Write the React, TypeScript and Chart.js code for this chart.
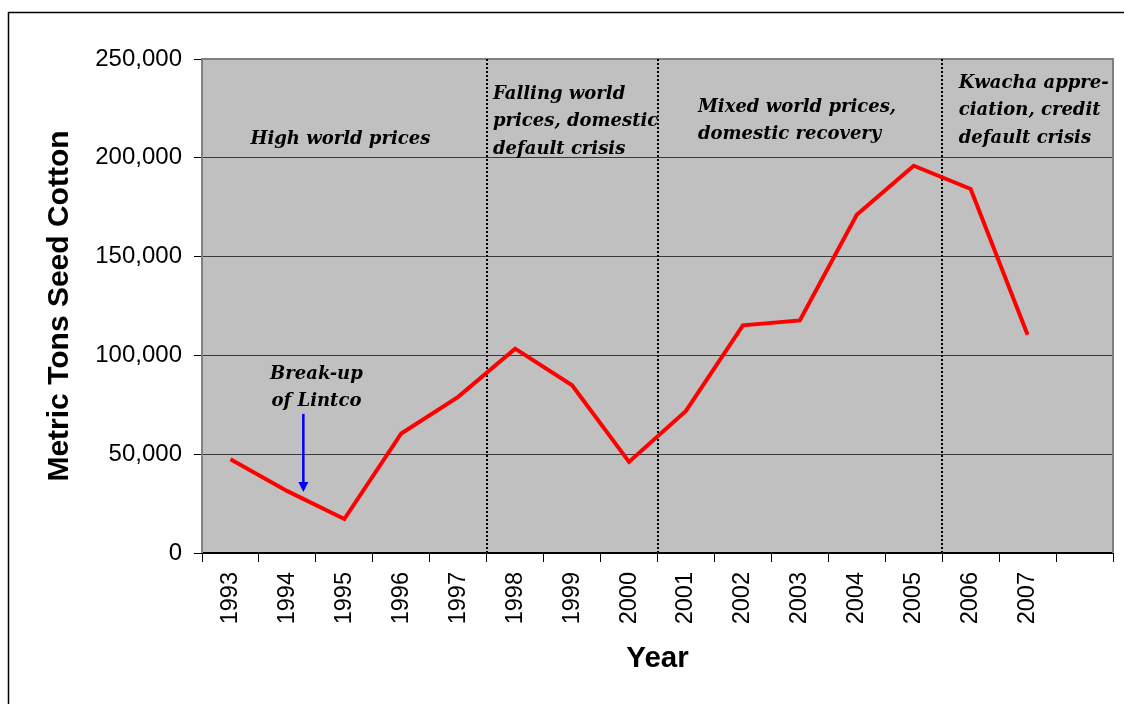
import React, { useEffect, useRef } from 'react';
import { Chart, registerables } from 'chart.js';

Chart.register(...registerables);

// ---- data ----
const years = ['1993', '1994', '1995', '1996', '1997', '1998', '1999', '2000', '2001', '2002', '2003', '2004', '2005', '2006', '2007', ''];
const seedCotton = [47500, 31300, 17200, 60500, 79000, 103400, 84900, 46100, 71900, 115200, 117700, 171200, 196000, 184200, 110500, null];
const yTickValues = [0, 50000, 100000, 150000, 200000, 250000];
const periodBoundaries = [4.5, 7.5, 12.5];

const periodNotes = [
  { lines: ['High world prices'], x: 1.93, y: 209500, align: 'center' },
  { lines: ['Falling world', 'prices, domestic', 'default crisis'], x: 4.61, y: 232300, align: 'left' },
  { lines: ['Mixed world prices,', 'domestic recovery'], x: 8.21, y: 225700, align: 'left' },
  { lines: ['Kwacha appre-', 'ciation, credit', 'default crisis'], x: 12.79, y: 237900, align: 'left' },
  { lines: ['Break-up', 'of Lintco'], x: 1.51, y: 90600, align: 'center' },
];
const lintcoArrow = { x: 1.28, from: 70400, to: 30900 };

const NOTE_FONT = 'italic bold 18px "DejaVu Serif"';
const NOTE_LINE = 27.5;

const plotDecor = {
  id: 'plotDecor',
  beforeDraw(chart: any) {
    const { ctx, chartArea: a } = chart;
    ctx.save();
    ctx.fillStyle = '#ffffff';
    ctx.fillRect(0, 0, chart.width, chart.height);
    ctx.fillStyle = '#c0c0c0';
    ctx.fillRect(a.left, a.top, a.right - a.left, a.bottom - a.top);
    ctx.restore();
  },
  beforeDatasetsDraw(chart: any) {
    const { ctx, chartArea: a, scales } = chart;
    ctx.save();
    ctx.strokeStyle = '#808080';
    ctx.lineWidth = 2;
    ctx.beginPath();
    ctx.moveTo(a.left, a.bottom);
    ctx.lineTo(a.left, a.top);
    ctx.lineTo(a.right, a.top);
    ctx.lineTo(a.right, a.bottom);
    ctx.stroke();
    ctx.strokeStyle = '#000000';
    ctx.lineWidth = 2;
    ctx.setLineDash([2, 2]);
    periodBoundaries.forEach((b) => {
      const x = Math.round(scales.x.getPixelForValue(b));
      ctx.beginPath();
      ctx.moveTo(x, a.top);
      ctx.lineTo(x, a.bottom);
      ctx.stroke();
    });
    ctx.restore();
  },
  afterDatasetsDraw(chart: any) {
    const { ctx, scales } = chart;
    ctx.save();
    ctx.font = NOTE_FONT;
    ctx.fillStyle = '#000000';
    ctx.textBaseline = 'middle';
    periodNotes.forEach((n) => {
      const x = scales.x.getPixelForValue(n.x);
      const y = scales.y.getPixelForValue(n.y);
      ctx.textAlign = n.align as CanvasTextAlign;
      n.lines.forEach((t, i) => ctx.fillText(t, x, y + i * NOTE_LINE));
    });
    const ax = scales.x.getPixelForValue(lintcoArrow.x);
    const y1 = scales.y.getPixelForValue(lintcoArrow.from);
    const y2 = scales.y.getPixelForValue(lintcoArrow.to);
    ctx.strokeStyle = '#0000ff';
    ctx.fillStyle = '#0000ff';
    ctx.lineWidth = 2.5;
    ctx.beginPath();
    ctx.moveTo(ax, y1);
    ctx.lineTo(ax, y2 - 9);
    ctx.stroke();
    ctx.beginPath();
    ctx.moveTo(ax - 5, y2 - 10);
    ctx.lineTo(ax + 5, y2 - 10);
    ctx.lineTo(ax, y2);
    ctx.closePath();
    ctx.fill();
    ctx.restore();
  },
  afterDraw(chart: any) {
    const { ctx } = chart;
    ctx.save();
    ctx.strokeStyle = '#000000';
    ctx.lineWidth = 1.5;
    ctx.beginPath();
    ctx.moveTo(8.5, chart.height + 5);
    ctx.lineTo(8.5, 12.5);
    ctx.lineTo(chart.width + 5, 12.5);
    ctx.stroke();
    ctx.restore();
  },
};

export default function App() {
  const ref = useRef<HTMLCanvasElement | null>(null);

  useEffect(() => {
    if (!ref.current) return;
    const chart = new Chart(ref.current, {
      type: 'line',
      data: {
        labels: years,
        datasets: [
          {
            label: 'Metric Tons Seed Cotton',
            data: seedCotton,
            borderColor: '#ff0000',
            borderWidth: 4,
            pointRadius: 0,
            tension: 0,
            fill: false,
          },
        ],
      },
      options: {
        responsive: false,
        animation: false,
        devicePixelRatio: 1,
        layout: { padding: { top: 59, right: 11, bottom: 0, left: 0 } },
        plugins: {
          legend: { display: false },
          tooltip: { enabled: false },
        },
        scales: {
          x: {
            type: 'category',
            offset: true,
            afterFit: (s: any) => { s.height = 151; },
            grid: {
              display: true,
              drawOnChartArea: false,
              drawTicks: true,
              tickLength: 9,
              tickColor: '#000000',
              offset: true,
            },
            border: { display: true, color: '#000000', width: 2 },
            ticks: {
              autoSkip: false,
              minRotation: 90,
              maxRotation: 90,
              padding: 10,
              color: '#000000',
              font: { family: '"Liberation Sans", Arial, sans-serif', size: 23.5 },
            },
            title: {
              display: true,
              text: 'Year',
              color: '#000000',
              font: { family: '"Liberation Sans", Arial, sans-serif', size: 29.5, weight: 'bold' },
              padding: { top: 0, bottom: 27 },
            },
          },
          y: {
            min: 0,
            max: 250000,
            afterFit: (s: any) => { s.width = 202; },
            afterBuildTicks: (s: any) => { s.ticks = yTickValues.map((v) => ({ value: v })); },
            grid: {
              color: '#3a3a3a',
              lineWidth: 1,
              drawTicks: true,
              tickLength: 8,
              tickColor: '#000000',
            },
            border: { display: false },
            ticks: {
              padding: 12,
              color: '#000000',
              font: { family: '"Liberation Sans", Arial, sans-serif', size: 24 },
              callback: (v: any) => Number(v).toLocaleString('en-US'),
            },
            title: {
              display: true,
              text: 'Metric Tons Seed Cotton',
              color: '#000000',
              font: { family: '"Liberation Sans", Arial, sans-serif', size: 30, weight: 'bold' },
              padding: { top: 42, bottom: 0 },
            },
          },
        },
      },
      plugins: [plotDecor],
    });
    return () => chart.destroy();
  }, []);

  return (
    <div style={{ position: 'absolute', left: 0, top: 0, width: 1124, height: 704, background: '#fff' }}>
      <canvas ref={ref} width={1124} height={704} style={{ display: 'block' }} />
    </div>
  );
}
